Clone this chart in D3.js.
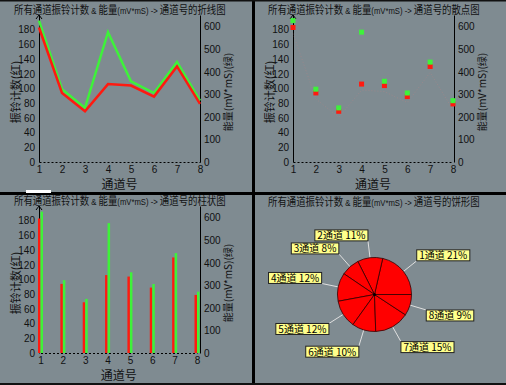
<!DOCTYPE html>
<html>
<head>
<meta charset="utf-8">
<script src="https://cdn.jsdelivr.net/npm/d3@7"></script>
<style>
  body { margin: 0; background: #7f8b91; }
  svg { display: block; }
</style>
</head>
<body>
<script>
// data
const channels = [1, 2, 3, 4, 5, 6, 7, 8];
const counts = [183, 94, 69, 106, 104, 89, 130, 79];       // 振铃计数 (red, left axis)
const energy = [627, 323, 240, 576, 358, 306, 443, 272];   // 能量 (green, right axis)
const leftTicks = [0, 20, 40, 60, 80, 100, 120, 140, 160, 180];
const rightTicks = [0, 100, 200, 300, 400, 500, 600];
const chartNames = ["折线图", "散点图", "柱状图", "饼形图"];

const W = 506, H = 385;
const RED = "#ff1a10", GREEN = "#3ef23a";
const latin = "'Liberation Sans', Arial, sans-serif";
const cjk = "'Noto Sans CJK SC', sans-serif";

const svg = d3.select("body").append("svg")
    .attr("width", W)
    .attr("height", H);

svg.append("rect").attr("width", W).attr("height", H).attr("fill", "#7f8b91");

// panel origins
const panels = [
  {x: 0, y: 0}, {x: 254, y: 0},
  {x: 0, y: 192}, {x: 254, y: 192}
];

function title(g, name) {
  let wrap = g.append("g");
  let t = wrap.append("text")
      .attr("x", 0).attr("y", 0)
      .attr("fill", "#111");
  t.append("tspan").attr("font-family", cjk).attr("font-size", 11).text("所有通道振铃计数 ");
  t.append("tspan").attr("font-family", latin).attr("font-size", 9).text("& ");
  t.append("tspan").attr("font-family", cjk).attr("font-size", 11).text("能量");
  t.append("tspan").attr("font-family", latin).attr("font-size", 9).text("(mV*mS) -> ");
  t.append("tspan").attr("font-family", cjk).attr("font-size", 11).text("通道号的" + name);
  let w = t.node().getComputedTextLength();
  wrap.attr("transform", `translate(14,14) scale(${212 / w},1)`);
}

// shared axes frame for the three xy charts
function frame(g, x, yL, yR) {
  let ax = g.append("g").attr("transform", "translate(0,162)")
      .call(d3.axisBottom(x).tickValues(channels).tickFormat(d3.format("d")).tickSize(0).tickPadding(4));
  ax.select(".domain").attr("stroke", "#000").attr("stroke-dasharray", "2,2");
  ax.selectAll("text").attr("font-family", latin).attr("font-size", 10).attr("fill", "#111");

  let al = g.append("g").attr("transform", "translate(39,0)")
      .call(d3.axisLeft(yL).tickValues(leftTicks).tickSize(0).tickPadding(4));
  al.select(".domain").attr("stroke", "#000");
  al.selectAll("text").attr("font-family", latin).attr("font-size", 10).attr("fill", "#111");

  let ar = g.append("g").attr("transform", "translate(200,0)")
      .call(d3.axisRight(yR).tickValues(rightTicks).tickSize(0).tickPadding(4));
  ar.select(".domain").attr("stroke", "#000");
  ar.selectAll("text").attr("font-family", latin).attr("font-size", 10).attr("fill", "#111");

  // small arrow on top of the left axis
  g.append("path")
      .attr("d", `M36,${yL.range()[1] + 4}L39,${yL.range()[1]}L42,${yL.range()[1] + 4}`)
      .attr("fill", "none").attr("stroke", "#000");

  g.append("text")
      .attr("x", x(4.5)).attr("y", 189)
      .attr("text-anchor", "middle")
      .attr("font-family", cjk).attr("font-size", 12).attr("fill", "#111")
      .text("通道号");

  g.append("text")
      .attr("transform", "translate(20,92) rotate(-90)")
      .attr("text-anchor", "middle")
      .attr("font-family", cjk).attr("font-size", 11).attr("fill", "#111")
      .text("振铃计数(红)");

  g.append("text")
      .attr("transform", "translate(232,92) rotate(-90)")
      .attr("text-anchor", "middle")
      .attr("font-family", cjk).attr("font-size", 10).attr("fill", "#111")
      .text("能量(mV*mS)(绿)");
}

const yL = d3.scaleLinear().domain([0, 200]).range([162, 15]);
const yR = d3.scaleLinear().domain([0, 652]).range([162, 15]);

// 1) line chart
{
  let g = svg.append("g").attr("transform", `translate(${panels[0].x},${panels[0].y})`);
  let x = d3.scaleLinear().domain([1, 8]).range([39, 200]);
  title(g, chartNames[0]);
  frame(g, x, yL, yR);
  g.append("path")
      .datum(energy)
      .attr("d", d3.line().x((d, i) => x(channels[i])).y(d => yR(d)))
      .attr("fill", "none").attr("stroke", GREEN).attr("stroke-width", 2.5);
  g.append("path")
      .datum(counts)
      .attr("d", d3.line().x((d, i) => x(channels[i])).y(d => yL(d)))
      .attr("fill", "none").attr("stroke", RED).attr("stroke-width", 2.5);
}

// 2) scatter chart
{
  let g = svg.append("g").attr("transform", `translate(${panels[1].x},${panels[1].y})`);
  let x = d3.scaleLinear().domain([1, 8]).range([39, 199]);
  title(g, chartNames[1]);
  frame(g, x, yL, yR);
  g.append("path")
      .datum(counts)
      .attr("d", d3.line().x((d, i) => x(channels[i])).y(d => yL(d) + 6))
      .attr("fill", "none").attr("stroke", "#c98080").attr("stroke-opacity", 0.35)
      .attr("stroke-dasharray", "1,2");
  g.selectAll(".red").data(counts).enter().append("rect")
      .attr("x", (d, i) => x(channels[i]) - 2.5).attr("y", d => yL(d) - 2.5)
      .attr("width", 5).attr("height", 5).attr("fill", RED);
  g.selectAll(".green").data(energy).enter().append("rect")
      .attr("x", (d, i) => x(channels[i]) - 2.5).attr("y", d => yR(d) - 2.5)
      .attr("width", 5).attr("height", 5).attr("fill", GREEN);
}

// 3) bar chart
{
  let g = svg.append("g").attr("transform", `translate(${panels[2].x},${panels[2].y - 1})`);
  let x = d3.scaleLinear().domain([1, 8]).range([40.5, 197]);
  title(g, chartNames[2]);
  frame(g, x, yL, yR);
  g.selectAll(".rbar").data(counts).enter().append("rect")
      .attr("x", (d, i) => x(channels[i]) - 2.5).attr("y", d => yL(d))
      .attr("width", 2.5).attr("height", d => 162 - yL(d)).attr("fill", RED);
  g.selectAll(".gbar").data(energy).enter().append("rect")
      .attr("x", (d, i) => x(channels[i])).attr("y", d => yR(d))
      .attr("width", 2.5).attr("height", d => 162 - yR(d)).attr("fill", GREEN);
}

// 4) pie chart (counts), counter-clockwise from 3 o'clock
{
  let g = svg.append("g").attr("transform", `translate(${panels[3].x},${panels[3].y})`);
  title(g, chartNames[3]);
  let cx = 120.5, cy = 102.5, r = 37;
  let total = d3.sum(counts);
  let pie = d3.pie().sort(null).startAngle(Math.PI / 2).endAngle(Math.PI / 2 - 2 * Math.PI);
  let arcs = pie(counts);
  let arc = d3.arc().innerRadius(0).outerRadius(r);
  let pg = g.append("g").attr("transform", `translate(${cx},${cy})`);

  pg.selectAll(".lead").data(arcs).enter().append("line")
      .attr("x1", d => Math.sin((d.startAngle + d.endAngle) / 2) * r)
      .attr("y1", d => -Math.cos((d.startAngle + d.endAngle) / 2) * r)
      .attr("x2", d => Math.sin((d.startAngle + d.endAngle) / 2) * (r + 17))
      .attr("y2", d => -Math.cos((d.startAngle + d.endAngle) / 2) * (r + 17))
      .attr("stroke", "#e0e0e0").attr("stroke-width", 1);

  pg.selectAll(".slice").data(arcs).enter().append("path")
      .attr("d", arc)
      .attr("fill", "#ff0000").attr("stroke", "#300").attr("stroke-width", 0.8);
  pg.append("circle").attr("r", 1.5).attr("fill", "#000");

  arcs.forEach((d, i) => {
    let a = (d.startAngle + d.endAngle) / 2;
    let ex = Math.sin(a) * (r + 17), ey = -Math.cos(a) * (r + 17);
    let lbl = pg.append("g");
    let t = lbl.append("text")
        .attr("font-family", cjk).attr("font-size", 10).attr("fill", "#000")
        .text(channels[i] + "通道 " + Math.round(d.value / total * 100) + "%");
    let w = t.node().getComputedTextLength() + 5, h = 11;
    let bx = Math.sin(a) >= 0 ? ex : ex - w;
    let by = -Math.cos(a) > 0 ? ey : ey - h;
    lbl.insert("rect", "text")
        .attr("x", bx).attr("y", by).attr("width", w).attr("height", h)
        .attr("fill", "#ffff8c").attr("stroke", "#222").attr("stroke-width", 1);
    t.attr("x", bx + 2.5).attr("y", by + 9.5);
  });
}

// window dividers
svg.append("rect").attr("x", 252).attr("y", 0).attr("width", 3).attr("height", H).attr("fill", "#000");
svg.append("rect").attr("x", 0).attr("y", 192).attr("width", W).attr("height", 3).attr("fill", "#000");
svg.append("rect").attr("x", 26).attr("y", 190).attr("width", 25).attr("height", 3).attr("fill", "#fff");
svg.append("rect").attr("x", 0).attr("y", 0).attr("width", W).attr("height", 1.5).attr("fill", "#111");
svg.append("rect").attr("x", 0).attr("y", 383).attr("width", W).attr("height", 2).attr("fill", "#111");
</script>
</body>
</html>
